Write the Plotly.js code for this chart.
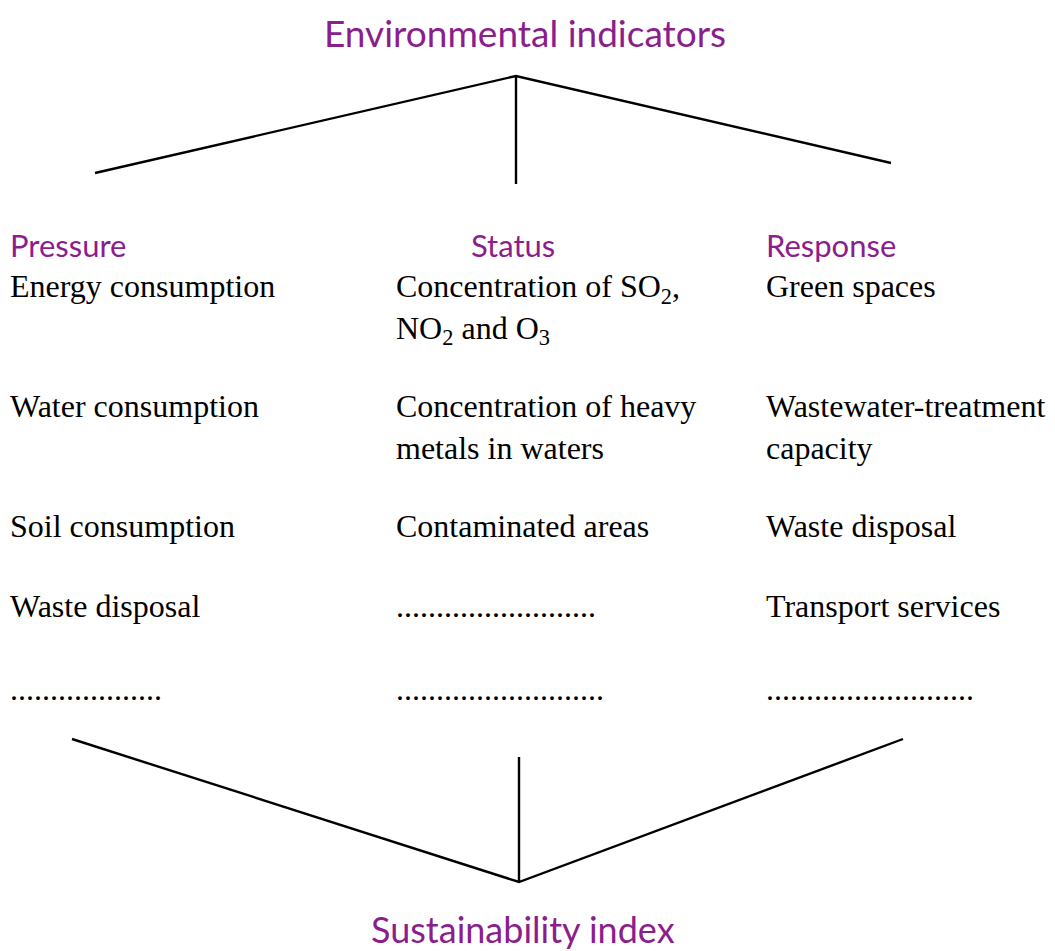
<!DOCTYPE html>
<html>
<head>
<meta charset="utf-8">
<script src="https://cdn.plot.ly/plotly-3.0.1.min.js"></script>
<style>html,body{margin:0;padding:0;background:#fff;}#chart{width:1055px;height:951px;}</style>
</head>
<body>
<div id="chart"></div>
<script>
// ---- content ----
const topTitle = "Environmental indicators";
const bottomTitle = "Sustainability index";
const headers = ["Pressure", "Status", "Response"];
const pressureItems = ["Energy consumption", "Water consumption", "Soil consumption", "Waste disposal", "..................."];
const statusItems = ["Concentration of SO<sub>2</sub>,<br>NO<sub>2</sub> and O<sub>3</sub>", "Concentration of heavy<br>metals in waters", "Contaminated areas", ".........................", ".........................."];
const responseItems = ["Green spaces", "Wastewater-treatment<br>capacity", "Waste disposal", "Transport services", ".........................."];

// ---- layout geometry (pixels, y downward) ----
const W = 1055, H = 951;
const purple = "#8c1d8c";
const colX = [8, 394, 764];
const headerX = [8, 469, 764];
const headerY = 245;
const rowTop = [266, 386, 506, 586, 669];
const connectors = [
  {x: [95, 516, 891], y: [173, 76, 163]},
  {x: [516, 516], y: [76, 184]},
  {x: [72, 519, 903], y: [739, 882, 739]},
  {x: [519, 519], y: [757, 882]}
];

const traces = connectors.map(c => ({
  type: "scatter", mode: "lines", x: c.x, y: c.y,
  line: {color: "#000", width: 2.4}, hoverinfo: "skip", showlegend: false
}));

const sansFont = {family: "Lato, 'Open Sans', sans-serif", color: purple};
const serifFont = {family: "'Liberation Serif', 'DejaVu Serif', serif", color: "#000", size: 32};

const annotations = [];
annotations.push({x: 525, y: 32, text: topTitle, showarrow: false, xanchor: "center", yanchor: "middle", font: Object.assign({size: 37}, sansFont)});
annotations.push({x: 523, y: 929, text: bottomTitle, showarrow: false, xanchor: "center", yanchor: "middle", font: Object.assign({size: 36}, sansFont)});
headers.forEach((h, i) => annotations.push({x: headerX[i], y: headerY, text: h, showarrow: false, xanchor: "left", yanchor: "middle", font: Object.assign({size: 31}, sansFont)}));
[pressureItems, statusItems, responseItems].forEach((col, ci) => {
  col.forEach((t, ri) => annotations.push({
    x: colX[ci], y: rowTop[ri], text: t, showarrow: false, xanchor: "left", yanchor: "top", align: "left", font: serifFont
  }));
});

const layout = {
  width: W, height: H,
  margin: {l: 0, r: 0, t: 0, b: 0},
  paper_bgcolor: "#fff", plot_bgcolor: "#fff",
  xaxis: {range: [0, W], visible: false, fixedrange: true},
  yaxis: {range: [H, 0], visible: false, fixedrange: true},
  annotations: annotations,
  showlegend: false
};
Plotly.newPlot("chart", traces, layout, {displayModeBar: false, staticPlot: true});
</script>
</body>
</html>
